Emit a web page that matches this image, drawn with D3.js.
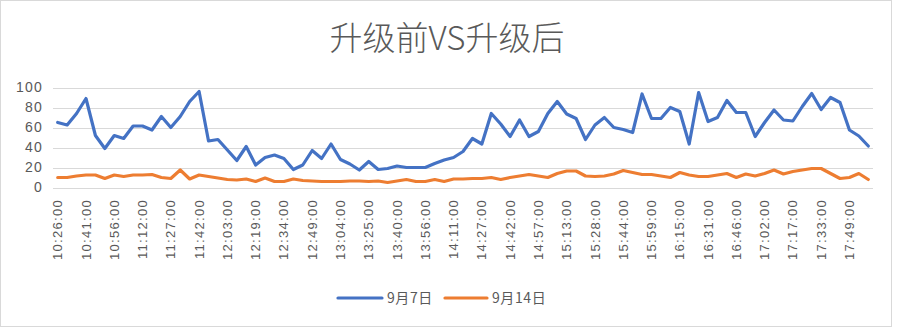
<!DOCTYPE html>
<html><head><meta charset="utf-8">
<script src="https://cdn.jsdelivr.net/npm/d3@7"></script>
<style>
html,body{margin:0;padding:0;background:#fff;}
svg{display:block;}
text{fill:#595959;}
</style></head>
<body>
<svg id="chart" width="897" height="329"></svg>
<script>
const title = "升级前VS升级后";
const times = ["10:26:00","10:31:00","10:36:00","10:41:00","10:46:00","10:51:00","10:56:00","11:01:00","11:07:00","11:12:00","11:17:00","11:22:00","11:27:00","11:32:00","11:37:00","11:42:00","11:49:00","11:56:00","12:03:00","12:08:00","12:14:00","12:19:00","12:24:00","12:29:00","12:34:00","12:39:00","12:44:00","12:49:00","12:54:00","12:59:00","13:04:00","13:11:00","13:18:00","13:25:00","13:30:00","13:35:00","13:40:00","13:45:00","13:51:00","13:56:00","14:01:00","14:06:00","14:11:00","14:16:00","14:22:00","14:27:00","14:32:00","14:37:00","14:42:00","14:47:00","14:52:00","14:57:00","15:02:00","15:08:00","15:13:00","15:18:00","15:23:00","15:28:00","15:33:00","15:39:00","15:44:00","15:49:00","15:54:00","15:59:00","16:04:00","16:10:00","16:15:00","16:20:00","16:26:00","16:31:00","16:36:00","16:41:00","16:46:00","16:51:00","16:57:00","17:02:00","17:07:00","17:12:00","17:17:00","17:22:00","17:28:00","17:33:00","17:38:00","17:44:00","17:49:00","17:54:00","17:59:00"];
const sep7 = [65,62.5,74,89,52,39,52,49,61.5,61.5,57.5,71,60,71,86,96,46.5,48,37.5,27,41,22.5,30,32.5,29,
  18,22.5,37,29,43.5,28,23.5,17.5,26,18,19,21.5,20,20,20,24,27.5,30,36,49,43.5,74,63.5,51,67.5,51,56,74,86,73.5,69,
  48,62.5,70,60,58,55,93.5,69,69,80,76,43.5,95,66,70,87,75,75,51,65,77.5,67.5,66.5,81,94,78,90,85,57.5,51.5,41.5];
const sep14 = [10,10,11.5,12.5,12.5,9,12.5,11,12.5,12.5,13,10,9,17.5,8.5,12.5,11,9.5,8,7.5,8.5,6,9.5,6,6,
  8.5,7,6.5,6,6,6,6.5,6.5,6,6.5,5,6.5,8,6,6,8,6,8.5,8.5,9,9,10,8,10,11.5,13,11.5,10,14,16.5,16.5,
  11.5,11,11.5,13.5,17,15,13,13,11.5,10,15,12.5,11,11,12.5,14,10,13.5,11.5,14,17.5,13.5,16,17.5,19,19,14,9,10,14,8];
const seriesNames = ["9月7日","9月14日"];
const colors = ["#4472C4","#ED7D31"];
const yTicks = [0,20,40,60,80,100];

const svg = d3.select("#chart");
svg.append("rect").attr("x",0.5).attr("y",0.5).attr("width",891).attr("height",326)
  .attr("fill","#fff").attr("stroke","#d9d9d9");

const x = d3.scaleBand().domain(times).range([53,873]);
const y = d3.scaleLinear().domain([0,100]).range([187.5,87.5]);
const cx = d => x(d) + x.bandwidth()/2;

// gridlines
svg.append("g").selectAll("line").data(yTicks).join("line")
  .attr("x1",53).attr("x2",873)
  .attr("y1",d=>Math.round(y(d))+0.5).attr("y2",d=>Math.round(y(d))+0.5)
  .attr("stroke","#d9d9d9").attr("stroke-width",1);

// y axis labels
const yAxis = d3.axisLeft(y).tickValues(yTicks).tickSize(0).tickPadding(0);
const ga = svg.append("g").attr("transform","translate(43,0)").call(yAxis);
ga.select(".domain").remove();
ga.selectAll("text").attr("font-family","Liberation Sans, Arial, sans-serif")
  .attr("font-size",14).attr("letter-spacing","1.2px").style("fill","#595959");

// x axis labels
const xAxis = d3.axisBottom(x).tickValues(times.filter((t,i)=>i%3===0)).tickSize(0).tickPadding(0);
const gx = svg.append("g").attr("transform","translate(0,199)").call(xAxis);
gx.select(".domain").remove();
gx.selectAll("text")
  .attr("font-family","Liberation Sans, Arial, sans-serif")
  .attr("font-size",13).attr("letter-spacing","1.3px").style("fill","#595959")
  .attr("text-anchor","end").attr("transform","rotate(-90)")
  .attr("x",0).attr("y",0).attr("dy","0.35em");

// lines
const line = d3.line().x((d,i)=>cx(times[i])).y(d=>y(d));
[sep7, sep14].forEach((s,k)=>{
  svg.append("path").datum(s).attr("d",line).attr("fill","none")
    .attr("stroke",colors[k]).attr("stroke-width",3.2)
    .attr("stroke-linejoin","round").attr("stroke-linecap","round");
});

// title
svg.append("text").attr("x",447).attr("y",50).attr("text-anchor","middle")
  .attr("font-family","Noto Sans CJK SC, sans-serif").attr("font-size",33)
  .attr("font-weight",300)
  .style("fill","#595959").text(title);

// legend
const leg = [{x1:338,x2:382,tx:387},{x1:445,x2:487,tx:492}];
leg.forEach((l,k)=>{
  svg.append("line").attr("x1",l.x1).attr("x2",l.x2).attr("y1",298).attr("y2",298)
    .attr("stroke",colors[k]).attr("stroke-width",3.2).attr("stroke-linecap","round");
  svg.append("text").attr("x",l.tx).attr("y",298).attr("dy","0.35em")
    .attr("font-family","Noto Sans CJK SC, sans-serif").attr("font-size",14)
    .attr("letter-spacing","0.6px").style("fill","#595959").text(seriesNames[k]);
});
</script>
</body></html>
